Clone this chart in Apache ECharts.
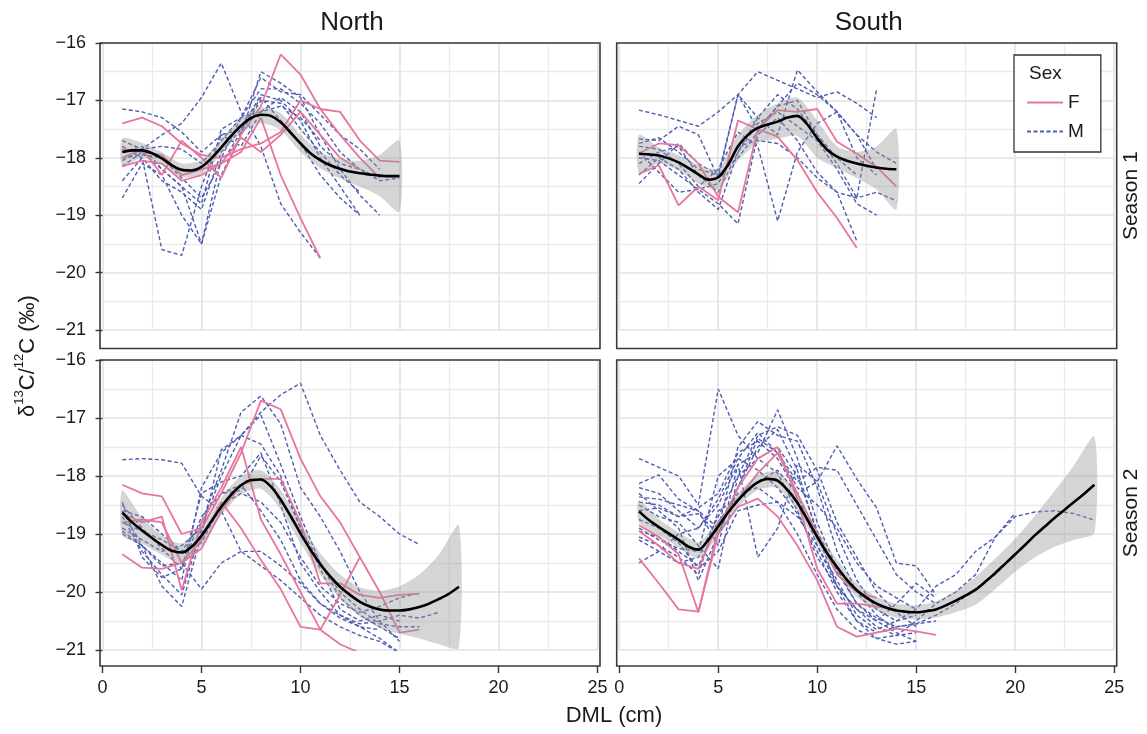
<!DOCTYPE html>
<html><head><meta charset="utf-8">
<script src="https://cdn.jsdelivr.net/npm/echarts@6/dist/echarts.min.js"></script>
<style>html,body{margin:0;padding:0;background:#fff}#chart{width:1147px;height:734px}</style>
</head><body><div id="chart"></div>
<script>
// ---------- labels & ticks ----------
const facetCols = ['North', 'South'];
const facetRows = ['Season 1', 'Season 2'];
const sexes = ['F', 'M'];
const xTicks = [0, 5, 10, 15, 20, 25];
const yTicks = [-21, -20, -19, -18, -17, -16];
const xTitle = 'DML (cm)';
const legendTitle = 'Sex';

// ---------- data ----------
// individuals: values at DML = 1, 2, 3, ...
// fitted curve: values at DML = 1, 1.5, 2, 2.5, ...
// confidence band: values at DML = 1, 2, 3, ...

// North, Season 1
const northS1_F = [
  [-17.4,-17.3,-17.45,-17.75,-17.95,-18.0,-17.85,-17.75,-17.55,-17.0,-17.15,-17.2,-17.7,-18.05,-18.07],
  [-18.0,-17.85,-18.3,-17.7,-18.0,-18.35,-17.6,-17.1,-16.2,-16.55,-17.15,-17.6,-18.0,-18.35],
  [-18.15,-18.05,-18.1,-18.4,-18.3,-18.1,-17.9,-17.3,-18.3,-19.05,-19.75],
  [-17.85,-17.9,-17.95,-18.3,-18.2,-18.1,-17.65,-17.9,-17.6,-17.2,-17.6,-18.0,-18.2]
];
const northS1_M = [
  [-17.15,-17.2,-17.3,-17.55,-17.9,-17.6,-17.8,-17.2,-16.95,-17.2,-17.8,-18.1,-18.2,-18.35],
  [-18.7,-18.1,-18.3,-19.0,-19.5,-18.3,-17.6,-16.5,-16.7,-16.95,-17.6,-18.2,-18.65,-19.0],
  [-18.4,-18.0,-19.6,-19.7,-18.5,-17.6,-17.5,-16.9,-17.0,-17.35,-18.0,-18.5,-19.0],
  [-17.7,-17.85,-17.6,-17.4,-16.95,-16.35,-17.2,-17.8,-18.8,-19.3,-19.75],
  [-17.9,-17.8,-18.2,-18.5,-19.5,-18.0,-17.3,-16.8,-16.8,-17.05,-17.4,-17.9,-18.2,-18.4,-18.35],
  [-18.0,-17.95,-18.0,-18.35,-18.7,-18.1,-17.55,-17.0,-17.05,-17.5,-17.9,-18.3,-18.6],
  [-18.15,-17.9,-18.2,-18.5,-18.8,-17.5,-17.3,-17.2,-17.1,-17.3,-17.7],
  [-17.8,-18.0,-18.4,-18.6,-18.9,-17.9,-17.5,-16.95,-17.35,-17.75,-18.3,-18.7,-19.0],
  [-18.05,-17.85,-17.8,-17.85,-18.1,-17.7,-17.3,-16.6,-16.85,-16.9,-17.25,-17.6,-17.85,-18.2]
];
const northS1_fit = [-17.9,-17.87,-17.87,-17.92,-18.01,-18.13,-18.21,-18.22,-18.16,-18.01,-17.82,-17.62,-17.44,-17.31,-17.25,
  -17.27,-17.38,-17.56,-17.75,-17.92,-18.04,-18.13,-18.19,-18.24,-18.27,-18.29,-18.31,-18.32,-18.32];
const northS1_upper = [-17.66,-17.74,-17.9,-18.1,-18.04,-17.68,-17.3,-17.12,-17.22,-17.6,-17.9,-18.02,-18.05,-17.95,-17.7];
const northS1_lower = [-18.14,-18.0,-18.12,-18.34,-18.28,-17.94,-17.56,-17.4,-17.52,-17.9,-18.18,-18.36,-18.5,-18.67,-18.94];

// South, Season 1
const southS1_F = [
  [-18.28,-18.13,-18.83,-18.5,-18.74,-17.35,-17.5,-17.63,-18.04,-18.6,-19.05,-19.57],
  [-17.92,-17.75,-17.78,-18.1,-18.68,-18.95,-17.5,-17.17,-17.2,-17.15,-17.72,-17.93,-18.16,-18.5]
];
const southS1_M = [
  [-17.17,-17.25,-17.35,-17.45,-17.2,-16.9,-16.5,-16.65,-16.8,-16.95,-16.85,-17.05,-17.3],
  [-17.67,-17.7,-17.45,-17.6,-18.35,-16.9,-17.3,-17.6,-16.47,-16.85,-17.2,-18.0,-18.3],
  [-18.45,-18.1,-17.75,-18.1,-18.3,-16.9,-17.5,-17.1,-17.0,-17.6,-18.1,-18.7,-16.8],
  [-17.9,-18.25,-18.6,-18.55,-18.8,-19.15,-17.6,-17.3,-17.7,-18.25,-18.6,-19.45],
  [-17.8,-17.85,-18.1,-18.5,-18.2,-17.55,-17.8,-19.1,-17.9,-17.4,-17.2,-17.6,-18.2],
  [-18.1,-17.9,-17.8,-18.3,-18.6,-17.9,-17.4,-17.2,-17.45,-17.7,-18.2,-18.8,-19.0],
  [-18.0,-18.05,-18.3,-18.55,-18.45,-17.8,-17.7,-17.75,-18.0,-18.35,-18.6,-18.7,-18.6,-18.75],
  [-17.75,-17.65,-17.9,-18.2,-18.3,-18.0,-17.55,-17.1,-16.7,-16.9,-17.2,-17.6,-17.9,-18.1],
  [-18.3,-18.0,-18.2,-18.6,-18.9,-17.9,-17.3,-16.9,-17.15,-17.6,-18.0,-18.3]
];
const southS1_fit = [-17.93,-17.94,-17.96,-18.01,-18.08,-18.18,-18.29,-18.38,-18.34,-18.12,-17.8,-17.6,-17.48,-17.42,-17.37,
  -17.3,-17.27,-17.42,-17.66,-17.86,-17.98,-18.05,-18.1,-18.14,-18.17,-18.19,-18.2];
const southS1_upper = [-17.6,-17.82,-17.95,-18.12,-18.18,-17.6,-17.25,-17.05,-16.95,-17.35,-17.8,-17.9,-17.8,-17.5];
const southS1_lower = [-18.26,-18.1,-18.22,-18.45,-18.55,-18.05,-17.75,-17.67,-17.62,-18.0,-18.18,-18.35,-18.55,-18.9];

// North, Season 2
const northS2_F = [
  [-18.15,-18.3,-18.35,-19.0,-18.9,-18.3,-17.6,-16.7,-16.85,-17.7,-18.35,-18.8,-19.4,-20.0,-20.7,-20.65],
  [-18.65,-18.8,-18.7,-19.97,-18.8,-18.2,-17.5,-18.75,-19.35,-20.0,-20.65,-20.05,-19.4],
  [-19.35,-19.58,-19.6,-19.5,-19.25,-18.6,-18.15,-18.05,-18.05,-18.8,-19.85,-19.85,-20.05,-20.1,-20.05,-20.03],
  [-18.8,-18.75,-18.8,-19.5,-19.1,-18.45,-18.9,-19.45,-19.95,-20.6,-20.65,-20.9,-21.05]
];
const northS2_M = [
  [-17.72,-17.7,-17.72,-17.78,-18.35,-18.6,-19.3,-19.55,-19.8,-20.1,-20.4,-20.6,-20.75,-20.85,-21.05],
  [-18.9,-19.1,-19.3,-19.2,-18.9,-18.0,-17.3,-16.9,-16.6,-16.4,-17.3,-17.9,-18.45,-18.7,-19.0,-19.18],
  [-18.6,-18.7,-19.0,-19.3,-18.8,-17.9,-16.9,-16.62,-17.1,-18.2,-18.7,-19.3,-20.0,-20.5,-20.85],
  [-18.95,-19.2,-19.5,-19.8,-18.2,-17.6,-17.3,-16.95,-17.8,-18.7,-19.5,-20.1,-20.4,-20.6,-20.8],
  [-18.5,-18.9,-19.25,-19.6,-18.7,-18.3,-18.25,-17.65,-18.1,-18.9,-19.6,-20.3,-20.5,-20.4,-20.5],
  [-19.0,-19.2,-19.55,-19.5,-19.95,-19.5,-19.3,-19.3,-19.55,-19.85,-20.2,-20.45,-20.6,-20.65],
  [-18.45,-19.4,-19.75,-19.6,-18.3,-18.1,-18.0,-17.6,-18.5,-19.5,-20.0,-20.4,-20.6,-20.8,-21.05],
  [-18.7,-19.3,-19.7,-20.05,-18.9,-18.3,-18.15,-18.6,-19.1,-19.8,-20.2,-20.4,-20.55,-20.5,-20.4,-20.45,-20.35],
  [-18.8,-18.95,-19.1,-19.3,-19.15,-18.5,-18.3,-18.45,-18.8,-19.4,-19.9,-20.2,-20.35,-20.25,-20.1,-20.02],
  [-18.6,-19.2,-19.9,-20.25,-19.0,-17.55,-17.3,-17.45,-18.0,-18.9,-19.5,-20.0,-20.3,-20.55,-20.6,-20.6]
];
const northS2_fit = [-18.63,-18.8,-18.94,-19.07,-19.19,-19.29,-19.32,-19.22,-19.03,-18.78,-18.53,-18.32,-18.16,-18.07,-18.06,
  -18.18,-18.41,-18.69,-18.99,-19.27,-19.52,-19.73,-19.91,-20.05,-20.17,-20.25,-20.3,-20.32,-20.32,-20.3,-20.26,-20.2,-20.12,-20.03,-19.91];
const northS2_upper = [-18.25,-18.72,-19.02,-19.16,-18.9,-18.38,-18.0,-17.9,-18.24,-18.82,-19.33,-19.7,-19.92,-19.98,-19.9,-19.7,-19.35,-18.85];
const northS2_lower = [-19.02,-19.17,-19.36,-19.5,-19.2,-18.68,-18.32,-18.22,-18.58,-19.16,-19.7,-20.12,-20.42,-20.62,-20.72,-20.8,-20.9,-20.96];

// South, Season 2
const southS2_F = [
  [-19.42,-19.85,-20.3,-20.34,-19.0,-18.53,-18.39,-18.7,-19.2,-19.8,-20.6,-20.77,-20.7,-20.63,-20.68,-20.74],
  [-18.85,-19.05,-19.35,-20.35,-18.9,-18.2,-17.7,-17.5,-18.4,-19.6,-20.2,-20.2,-20.25,-20.3],
  [-18.95,-19.2,-19.5,-19.6,-18.8,-18.4,-17.95,-17.6,-18.3,-19.0,-19.7,-20.0,-20.1]
];
const southS2_M = [
  [-17.7,-17.85,-18.0,-18.5,-16.5,-17.3,-17.7,-17.95,-18.6,-19.4,-19.9,-20.3,-20.6,-20.75,-20.7],
  [-18.13,-17.98,-18.4,-18.6,-18.9,-17.5,-17.06,-17.3,-17.4,-18.2,-19.3,-20.0,-20.4,-20.65],
  [-18.36,-18.4,-18.5,-18.6,-19.2,-17.8,-17.6,-16.86,-17.7,-18.8,-19.6,-20.2,-20.5,-20.7,-20.85],
  [-18.45,-18.5,-18.7,-18.55,-18.3,-17.6,-17.4,-17.7,-18.3,-18.1,-17.48,-18.05,-18.55,-19.5,-19.55,-20.05],
  [-18.6,-18.55,-18.7,-18.65,-19.0,-18.2,-17.35,-17.6,-18.1,-17.85,-17.9,-18.5,-19.1,-19.7,-20.0,-20.2],
  [-18.75,-18.9,-19.15,-19.6,-19.3,-18.6,-18.5,-18.45,-18.7,-19.2,-19.8,-20.4,-20.65,-20.5,-20.3,-19.9,-19.7,-19.3,-19.05,-18.64],
  [-18.95,-19.05,-19.3,-19.55,-18.8,-18.3,-18.2,-18.45,-19.0,-19.7,-20.3,-20.65,-20.8,-20.75,-20.5,-20.2,-20.0,-19.7,-19.05,-18.7,-18.62,-18.6,-18.65,-18.76],
  [-19.1,-19.3,-19.5,-19.4,-18.7,-18.0,-17.7,-17.5,-18.0,-18.95,-19.65,-20.2,-20.45,-20.6,-20.55,-20.4,-20.2,-19.95,-19.7,-19.34],
  [-19.5,-19.3,-19.0,-18.9,-18.5,-17.8,-19.4,-18.9,-17.8,-18.1,-19.0,-19.8,-20.3,-20.5,-20.4],
  [-18.3,-18.6,-18.9,-19.8,-19.0,-18.2,-17.5,-17.2,-17.9,-19.0,-19.9,-20.5,-20.8,-20.9,-20.85],
  [-18.5,-18.7,-18.8,-19.2,-19.6,-18.0,-17.3,-17.15,-17.3,-17.9,-18.8,-19.4,-20.0,-20.35,-20.6],
  [-18.9,-19.1,-19.25,-19.3,-18.0,-17.7,-17.9,-18.2,-18.65,-19.3,-20.0,-20.5,-20.7,-20.6,-20.55,-20.5],
  [-19.05,-19.2,-19.4,-19.7,-18.6,-18.4,-18.1,-17.9,-18.3,-19.2,-19.9,-20.3,-20.5,-20.2,-19.85,-20.1],
  [-18.2,-18.3,-18.6,-18.9,-18.4,-17.7,-17.25,-17.6,-18.2,-18.5,-18.9,-19.5,-19.9,-20.1,-20.3]
];
const southS2_fit = [-18.61,-18.76,-18.88,-18.99,-19.1,-19.22,-19.27,-19.1,-18.87,-18.63,-18.42,-18.24,-18.11,-18.05,-18.08,
  -18.24,-18.46,-18.75,-19.05,-19.33,-19.57,-19.79,-19.97,-20.1,-20.2,-20.27,-20.32,-20.34,-20.35,-20.33,-20.3,-20.23,-20.15,
  -20.06,-19.96,-19.82,-19.67,-19.51,-19.35,-19.19,-19.02,-18.87,-18.72,-18.58,-18.44,-18.3,-18.15];
const southS2_upper = [-18.42,-18.74,-18.97,-19.14,-18.77,-18.3,-17.98,-17.93,-18.32,-18.93,-19.44,-19.85,-20.08,-20.2,-20.23,-20.16,-19.98,-19.74,-19.42,-19.08,-18.68,-18.25,-17.8,-17.32];
const southS2_lower = [-18.8,-19.02,-19.23,-19.42,-19.03,-18.54,-18.24,-18.21,-18.6,-19.17,-19.68,-20.09,-20.32,-20.44,-20.47,-20.44,-20.35,-20.22,-19.95,-19.65,-19.4,-19.22,-19.1,-18.98];

// ---------- panels ----------
const panels = [
  {col: 0, row: 0, F: northS1_F, M: northS1_M, fit: northS1_fit, upper: northS1_upper, lower: northS1_lower},
  {col: 1, row: 0, F: southS1_F, M: southS1_M, fit: southS1_fit, upper: southS1_upper, lower: southS1_lower},
  {col: 0, row: 1, F: northS2_F, M: northS2_M, fit: northS2_fit, upper: northS2_upper, lower: northS2_lower},
  {col: 1, row: 1, F: southS2_F, M: southS2_M, fit: southS2_fit, upper: southS2_upper, lower: southS2_lower}
];

// ---------- layout & style ----------
const FONT = '"Liberation Sans", Arial, Helvetica, sans-serif';
const TXT = '#1a1a1a';
const COL = {F: '#E8759B', M: '#4D5DB0'};
const frameLeft = [100, 616.7], frameTop = [43, 360], frameW = 500, frameH = [305.5, 306];
const padX = 2.5, plotH = [287, 290];
const minus = v => (v < 0 ? '\u2212' : '') + Math.abs(v);

const grid = [], xAxis = [], yAxis = [], series = [];
panels.forEach((p, i) => {
  const gl = frameLeft[p.col] + padX, gt = frameTop[p.row];
  grid.push({left: gl, top: gt, width: frameW - 2 * padX, height: plotH[p.row], show: false, outerBoundsMode: 'none', containLabel: false});
  const bottomRow = p.row === 1, leftCol = p.col === 0;
  xAxis.push({
    gridIndex: i, type: 'value', min: xTicks[0], max: xTicks[xTicks.length - 1], interval: xTicks[1] - xTicks[0],
    offset: frameTop[p.row] + frameH[p.row] - (gt + plotH[p.row]),
    axisLine: {show: false},
    axisTick: {show: bottomRow, length: 7, lineStyle: {color: '#333', width: 1.4}},
    axisLabel: {show: bottomRow, margin: 13, fontSize: 18, color: TXT, fontFamily: FONT},
    splitLine: {show: true, lineStyle: {color: '#e2e2e2', width: 1.6}},
    minorTick: {show: false, splitNumber: 2},
    minorSplitLine: {show: true, lineStyle: {color: '#ebebeb', width: 1.3}}
  });
  yAxis.push({
    gridIndex: i, type: 'value', min: yTicks[0], max: yTicks[yTicks.length - 1], interval: yTicks[1] - yTicks[0],
    offset: padX,
    axisLine: {show: false},
    axisTick: {show: leftCol, length: 7, lineStyle: {color: '#333', width: 1.4}},
    axisLabel: {show: leftCol, margin: 14, fontSize: 18, color: TXT, fontFamily: FONT, formatter: minus},
    splitLine: {show: true, lineStyle: {color: '#e2e2e2', width: 1.6}},
    minorTick: {show: false, splitNumber: 2},
    minorSplitLine: {show: true, lineStyle: {color: '#ebebeb', width: 1.3}}
  });
  ['M', 'F'].forEach(sex => {
    p[sex].forEach(ys => {
      series.push({
        type: 'line', name: sex, xAxisIndex: i, yAxisIndex: i, symbol: 'none', silent: true, z: 2,
        data: ys.map((y, j) => [j + 1, y]),
        lineStyle: sex === 'F'
          ? {color: COL.F, width: 1.8, type: 'solid'}
          : {color: COL.M, width: 1.4, type: [4, 2.5]},
        itemStyle: {color: COL[sex]},
        emphasis: {disabled: true}
      });
    });
  });
  series.push({
    type: 'custom', xAxisIndex: i, yAxisIndex: i, silent: true, z: 3,
    data: p.upper.map((u, j) => [j + 1, u, p.lower[j]]),
    renderItem: (params, api) => {
      if (params.dataIndex !== 0) return null;
      const pts = [];
      p.upper.forEach((u, j) => pts.push(api.coord([j + 1, u])));
      for (let j = p.lower.length - 1; j >= 0; j--) pts.push(api.coord([j + 1, p.lower[j]]));
      return {type: 'polygon', shape: {points: pts, smooth: 0.25}, style: {fill: 'rgba(150,150,150,0.4)'}};
    }
  });
  series.push({
    type: 'line', xAxisIndex: i, yAxisIndex: i, symbol: 'none', silent: true, z: 4, smooth: 0.3,
    data: p.fit.map((y, j) => [1 + j * 0.5, y]),
    lineStyle: {color: '#000', width: 2.6}, emphasis: {disabled: true}
  });
});

const graphic = [];
// panel frames
panels.forEach(p => graphic.push({
  type: 'rect', z: 50, silent: true,
  shape: {x: frameLeft[p.col], y: frameTop[p.row], width: frameW, height: frameH[p.row]},
  style: {fill: 'none', stroke: '#3a3a3a', lineWidth: 1.6}
}));
// column strips
facetCols.forEach((t, c) => graphic.push({
  type: 'text', x: frameLeft[c] + frameW / 2 + 2, y: 23,
  style: {text: t, fontSize: 26, fontFamily: FONT, fill: TXT, align: 'center', verticalAlign: 'middle'}
}));
// row strips
facetRows.forEach((t, r) => graphic.push({
  type: 'text', x: 1131, y: frameTop[r] + frameH[r] / 2, rotation: Math.PI / 2,
  style: {text: t, fontSize: 21, fontFamily: FONT, fill: TXT, align: 'center', verticalAlign: 'middle'}
}));
// axis titles
graphic.push({
  type: 'text', x: 614, y: 716,
  style: {text: xTitle, fontSize: 22, fontFamily: FONT, fill: TXT, align: 'center', verticalAlign: 'middle'}
});
graphic.push({
  type: 'text', x: 26, y: 356, rotation: Math.PI / 2,
  style: {
    text: '{n|δ}{s|13}{n|C/}{s|12}{n|C (‰)}', align: 'center', verticalAlign: 'middle',
    rich: {
      n: {fontSize: 22, fontFamily: FONT, fill: TXT, verticalAlign: 'bottom', lineHeight: 26},
      s: {fontSize: 13, fontFamily: FONT, fill: TXT, verticalAlign: 'top', lineHeight: 26}
    }
  }
});
// legend title
graphic.push({
  type: 'text', x: 1029, y: 74, z: 60,
  style: {text: legendTitle, fontSize: 19, fontFamily: FONT, fill: TXT, align: 'left', verticalAlign: 'middle'}
});

const option = {
  animation: false,
  backgroundColor: '#fff',
  grid, xAxis, yAxis, series, graphic,
  legend: {
    data: sexes, orient: 'vertical', left: 1014, top: 55,
    padding: [38, 17, 11, 12], itemWidth: 36, itemHeight: 14, itemGap: 10,
    borderColor: '#333', borderWidth: 1.3, backgroundColor: '#fff', borderRadius: 0,
    textStyle: {fontSize: 19, color: TXT, fontFamily: FONT},
    itemStyle: {opacity: 0, borderWidth: 0},
    selectedMode: false, z: 40
  }
};

const chart = echarts.init(document.getElementById('chart'), null, {renderer: 'canvas'});
chart.setOption(option);
</script>
</body></html>
